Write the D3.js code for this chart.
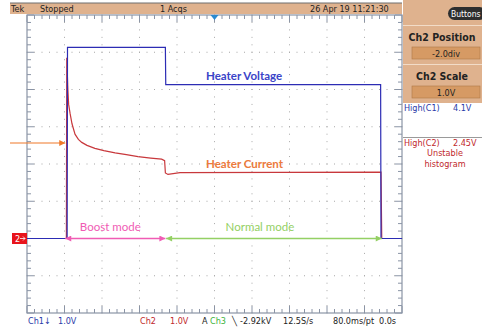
<!DOCTYPE html>
<html>
<head>
<meta charset="utf-8">
<script src="https://cdn.jsdelivr.net/npm/d3@7"></script>
<style>
  body { margin: 0; background: #fff; }
  svg { display: block; }
  .ui { font-family: "Liberation Sans Narrow", "DejaVu Sans Condensed", sans-serif; }
  .note { font-family: Lato, "Open Sans", sans-serif; }
</style>
</head>
<body>
<script>
// trace data, time in divisions (10 div across), level in volts (1 V/div)
const voltageT = [0, 1.07, 1.08, 3.69, 3.70, 9.43, 9.44, 10];
const voltageV = [0, 0, 5.13, 5.13, 4.13, 4.13, 0, 0];

const currentT = [0, 1.05, 1.06, 1.09, 1.11, 1.15, 1.2, 1.28, 1.37, 1.46, 1.6, 1.81, 2.05, 2.35, 2.65, 2.96, 3.3, 3.59, 3.67, 3.69, 3.76, 4.08, 9.44, 9.46, 10];
const currentV = [0, 0, 4.85, 4.0, 3.6, 3.35, 3.08, 2.8, 2.66, 2.58, 2.5, 2.42, 2.36, 2.3, 2.25, 2.2, 2.16, 2.13, 2.09, 1.76, 1.72, 1.77, 1.78, 0, 0];

// mode spans (divisions)
const modeNames = ['Boost mode', 'Normal mode'];
const modeStart = [1.02, 3.71];
const modeEnd = [3.69, 9.46];
const modeColors = ['#f05cb4', '#94d064'];

// readouts
const bottomLabels = ['Ch1\u2193', '1.0V', 'Ch2', '1.0V', 'A', 'Ch3', '\u2572', '-2.92kV', '12.5S/s', '80.0ms/pt', '0.0s'];
const bottomColors = ['#2a3aa8', '#2a3aa8', '#c0282c', '#c0282c', '#222', '#3cb43c', '#222', '#222', '#222', '#222', '#222'];
const bottomX = [28, 58, 140, 170, 202, 210, 232, 240, 283, 333, 379];

const W = 482, H = 328;
const svg = d3.select('body').append('svg').attr('width', W).attr('height', H);

const x = d3.scaleLinear().domain([0, 10]).range([27, 402]);
const y = d3.scaleLinear().domain([-2, 6]).range([313, 15]); // Ch position -2 div

/*
  graticule
*/
const frameColor = '#8a94a6';
const minorX = d3.range(0, 50.01, 1).map(d => d / 5);
const minorY = d3.range(0, 40.01, 1).map(d => d / 5 - 2);
const majorX = d3.range(1, 10);
const majorY = d3.range(-1, 6);

const grid = svg.append('g');
// dots along each division line
majorX.forEach(mx => {
  grid.selectAll(null).data(minorY).join('rect')
    .attr('x', x(mx) - 0.5).attr('y', d => y(d) - 0.5)
    .attr('width', 1).attr('height', 1).attr('fill', '#a8a8a8');
});
majorY.forEach(my => {
  grid.selectAll(null).data(minorX).join('rect')
    .attr('x', d => x(d) - 0.5).attr('y', y(my) - 0.5)
    .attr('width', 1).attr('height', 1).attr('fill', '#a8a8a8');
});

// frame ticks
const isMajor = d => Math.abs(d - Math.round(d)) < 1e-6;
grid.selectAll(null).data(minorX).join('line')
  .attr('x1', d => x(d)).attr('x2', d => x(d))
  .attr('y1', y(6)).attr('y2', d => y(6) + (isMajor(d) ? 7 : 4))
  .attr('stroke', frameColor);
grid.selectAll(null).data(minorX).join('line')
  .attr('x1', d => x(d)).attr('x2', d => x(d))
  .attr('y1', y(-2)).attr('y2', d => y(-2) - (isMajor(d) ? 7 : 4))
  .attr('stroke', frameColor);
grid.selectAll(null).data(minorY).join('line')
  .attr('y1', d => y(d)).attr('y2', d => y(d))
  .attr('x1', x(0)).attr('x2', d => x(0) + (isMajor(d) ? 7 : 4))
  .attr('stroke', frameColor);
grid.selectAll(null).data(minorY).join('line')
  .attr('y1', d => y(d)).attr('y2', d => y(d))
  .attr('x1', x(10)).attr('x2', d => x(10) - (isMajor(d) ? 7 : 4))
  .attr('stroke', frameColor);
grid.append('rect')
  .attr('x', x(0)).attr('y', y(6))
  .attr('width', x(10) - x(0)).attr('height', y(-2) - y(6))
  .attr('fill', 'none').attr('stroke', frameColor).attr('stroke-width', 1.2);

/*
  traces
*/
const line = d3.line().x(d => x(d[0])).y(d => y(d[1]));
svg.append('path')
  .datum(d3.zip(currentT, currentV))
  .attr('d', line).attr('fill', 'none')
  .attr('stroke', '#c8383c').attr('stroke-width', 1.2);
svg.append('path')
  .datum(d3.zip(voltageT, voltageV))
  .attr('d', line).attr('fill', 'none')
  .attr('stroke', '#2c2cb4').attr('stroke-width', 1.2);

/*
  annotations
*/
const defs = svg.append('defs');
function addMarker(id, color, reverse) {
  defs.append('marker')
    .attr('id', id).attr('viewBox', '0 0 10 10')
    .attr('refX', reverse ? 0 : 10).attr('refY', 5)
    .attr('markerWidth', 7).attr('markerHeight', 6)
    .attr('markerUnits', 'userSpaceOnUse')
    .attr('orient', 'auto')
    .append('path')
      .attr('d', reverse ? 'M10,0 L0,5 L10,10 z' : 'M0,0 L10,5 L0,10 z')
      .attr('fill', color);
}
modeNames.forEach((name, i) => {
  addMarker('mS' + i, modeColors[i], true);
  addMarker('mE' + i, modeColors[i], false);
  svg.append('line')
    .attr('x1', x(modeStart[i])).attr('x2', x(modeEnd[i]))
    .attr('y1', y(0)).attr('y2', y(0))
    .attr('stroke', modeColors[i]).attr('stroke-width', 1.6)
    .attr('marker-start', `url(#mS${i})`).attr('marker-end', `url(#mE${i})`);
  svg.append('text').attr('class', 'note')
    .attr('x', (x(modeStart[i]) + x(modeEnd[i])) / 2 + (i === 0 ? -5 : -14))
    .attr('y', y(0) - 8)
    .attr('text-anchor', 'middle')
    .attr('font-size', 11.5).attr('fill', modeColors[i])
    .text(name);
});

svg.append('text').attr('class', 'note')
  .attr('x', 206).attr('y', 80).attr('font-size', 11.5)
  .attr('font-weight', 'bold').attr('fill', '#3a44c8')
  .text('Heater Voltage');
svg.append('text').attr('class', 'note')
  .attr('x', 206).attr('y', 168).attr('font-size', 11.5)
  .attr('font-weight', 'bold').attr('fill', '#ec7a3c')
  .text('Heater Current');

// orange pointer from left
addMarker('orangeHead', '#f07828', false);
svg.append('line')
  .attr('x1', 10).attr('x2', x(1.02)).attr('y1', 143).attr('y2', 143)
  .attr('stroke', '#f07828').attr('stroke-width', 1.2)
  .attr('marker-end', 'url(#orangeHead)');

// channel 2 ground marker
svg.append('rect').attr('x', 12).attr('y', y(0) - 5.5)
  .attr('width', 15).attr('height', 11).attr('fill', '#e8141c');
svg.append('text').attr('class', 'ui')
  .attr('x', 15).attr('y', y(0) + 3.5).attr('font-size', 9).attr('fill', '#fff')
  .text('2');
svg.append('path')
  .attr('d', `M20,${y(0)} L25,${y(0)} M23,${y(0) - 2} L25,${y(0)} L23,${y(0) + 2}`)
  .attr('stroke', '#fff').attr('stroke-width', 0.8).attr('fill', 'none');

/*
  status bar and side panel
*/
const tan = '#dfb28e';
svg.append('rect').attr('x', 10).attr('y', 3).attr('width', 392).attr('height', 11).attr('fill', tan);
svg.append('line').attr('x1', 10).attr('x2', 402).attr('y1', 3).attr('y2', 3)
  .attr('stroke', '#6e6e6e').attr('stroke-width', 1);
const topText = [['Tek', 11], ['Stopped', 40], ['1 Acqs', 160], ['26 Apr 19 11:21:30', 310]];
svg.selectAll(null).data(topText).join('text').attr('class', 'ui')
  .attr('x', d => d[1]).attr('y', 12).attr('font-size', 9).attr('fill', '#222')
  .text(d => d[0]);
// trigger position marker
svg.append('path').attr('d', `M${x(5) - 4},15 L${x(5) + 4},15 L${x(5)},20 z`).attr('fill', '#2a8ad0');

svg.append('rect').attr('x', 403).attr('y', 0).attr('width', 79).attr('height', 103).attr('fill', tan);
svg.append('line').attr('x1', 403).attr('x2', 482).attr('y1', 25.5).attr('y2', 25.5).attr('stroke', '#f2dcc8');
svg.append('line').attr('x1', 403).attr('x2', 482).attr('y1', 64.5).attr('y2', 64.5).attr('stroke', '#f2dcc8');
svg.append('rect').attr('x', 448).attr('y', 7).attr('width', 38).attr('height', 13).attr('rx', 6.5).attr('fill', '#2e2e2e');
svg.append('text').attr('class', 'ui').attr('x', 451).attr('y', 16.5).attr('font-size', 8.5).attr('fill', '#fff').text('Buttons');

const panelTitles = ['Ch2 Position', 'Ch2 Scale'];
const panelValues = ['-2.0div', '1.0V'];
const panelTop = [28, 67];
panelTitles.forEach((t, i) => {
  svg.append('text').attr('class', 'ui')
    .attr('x', 442).attr('y', panelTop[i] + 13).attr('text-anchor', 'middle')
    .attr('font-size', 10.5).attr('font-weight', 'bold').attr('fill', '#222')
    .text(t);
  svg.append('rect').attr('x', 412).attr('y', panelTop[i] + 19)
    .attr('width', 68).attr('height', 12).attr('fill', '#d69a64')
    .attr('stroke', '#b07848').attr('stroke-width', 0.6);
  svg.append('text').attr('class', 'ui')
    .attr('x', 446).attr('y', panelTop[i] + 28.5).attr('text-anchor', 'middle')
    .attr('font-size', 9).attr('fill', '#222')
    .text(panelValues[i]);
});

svg.append('text').attr('class', 'ui').attr('x', 404).attr('y', 111).attr('font-size', 9).attr('fill', '#2a3aa8').text('High(C1)');
svg.append('text').attr('class', 'ui').attr('x', 453).attr('y', 111).attr('font-size', 9).attr('fill', '#2a3aa8').text('4.1V');
svg.append('line').attr('x1', 403).attr('x2', 482).attr('y1', 137.5).attr('y2', 137.5).attr('stroke', '#9a9a9a');
svg.append('text').attr('class', 'ui').attr('x', 404).attr('y', 146).attr('font-size', 9).attr('fill', '#c0282c').text('High(C2)');
svg.append('text').attr('class', 'ui').attr('x', 453).attr('y', 146).attr('font-size', 9).attr('fill', '#c0282c').text('2.45V');
svg.append('text').attr('class', 'ui').attr('x', 445).attr('y', 156).attr('text-anchor', 'middle').attr('font-size', 9).attr('fill', '#c0282c').text('Unstable');
svg.append('text').attr('class', 'ui').attr('x', 445).attr('y', 167).attr('text-anchor', 'middle').attr('font-size', 9).attr('fill', '#c0282c').text('histogram');

svg.selectAll(null).data(bottomLabels).join('text').attr('class', 'ui')
  .attr('x', (d, i) => bottomX[i]).attr('y', 324)
  .attr('font-size', 9).attr('fill', (d, i) => bottomColors[i])
  .text(d => d);
</script>
</body>
</html>
